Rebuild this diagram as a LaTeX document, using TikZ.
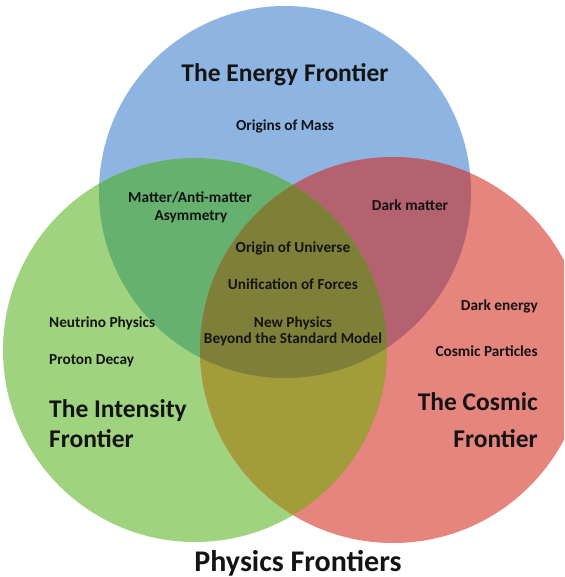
\documentclass[tikz,border=0pt]{standalone}
\usepackage{fontspec}
\setmainfont{Carlito}
\definecolor{cblue}{RGB}{142,180,226}
\definecolor{cgreen}{RGB}{160,211,127}
\definecolor{cred}{RGB}{230,132,126}
\definecolor{cbg}{RGB}{102,176,112}
\definecolor{cbr}{RGB}{180,97,112}
\definecolor{cgr}{RGB}{162,156,58}
\definecolor{call}{RGB}{126,128,58}
\tikzset{
  lbl/.style={inner sep=0pt, anchor=base, font=\fontsize{15.3}{17}\selectfont\bfseries, text=black!92},
  lbll/.style={lbl, anchor=base west},
  lblr/.style={lbl, anchor=base east},
  big/.style={inner sep=0pt, anchor=base, font=\fontsize{25.5}{29}\selectfont\bfseries, text=black!92},
  bigl/.style={big, anchor=base west},
  bigr/.style={big, anchor=base east},
}
\def\blueC{(285,192) circle[radius=186]}
\def\greenC{(195,350) circle[radius=192]}
\def\redC{(393,350) circle[radius=193]}
\begin{document}
\begin{tikzpicture}[x=1pt,y=-1pt]
\useasboundingbox (0,0) rectangle (564,577);
\clip (0,0) rectangle (564,577);
\fill[white] (0,0) rectangle (564,577);
% single circles
\fill[cblue] \blueC;
\fill[cgreen] \greenC;
\fill[cred] \redC;
% pairwise overlaps
\begin{scope}
  \clip \blueC;
  \fill[cbg] \greenC;
\end{scope}
\begin{scope}
  \clip \blueC;
  \fill[cbr] \redC;
\end{scope}
\begin{scope}
  \clip \greenC;
  \fill[cgr] \redC;
\end{scope}
% triple overlap
\begin{scope}
  \clip \blueC;
  \clip \greenC;
  \fill[call] \redC;
\end{scope}
% texts
\node[big] (energy) at (285,82) {The Energy Frontier};
\node[lbl] (mass) at (285,131) {Origins of Mass};
\node[lbl] (matter1) at (190,202) {Matter/Anti-matter};
\node[lbl] (matter2) at (191,220) {Asymmetry};
\node[lbl] (dm) at (410,210) {Dark matter};
\node[lbl] (univ) at (293,252) {Origin of Universe};
\node[lbl] (unif) at (293,289) {Unification of Forces};
\node[lbl] (newp1) at (293,327) {New Physics};
\node[lbl] (newp2) at (293,343) {Beyond the Standard Model};
\node[lbll] (neut) at (49,327) {Neutrino Physics};
\node[lbll] (proton) at (49,364) {Proton Decay};
\node[bigl] (int1) at (49,417) {The Intensity};
\node[bigl] (int2) at (49,447) {Frontier};
\node[lblr] (de) at (538,310) {Dark energy};
\node[lblr] (cp) at (538,356) {Cosmic Particles};
\node[bigr] (cos1) at (538,410) {The Cosmic};
\node[bigr] (cos2) at (538,447) {Frontier};
\node[big, font=\fontsize{30}{34}\selectfont\bfseries] (title) at (298,571) {Physics Frontiers};
\end{tikzpicture}
\end{document}
